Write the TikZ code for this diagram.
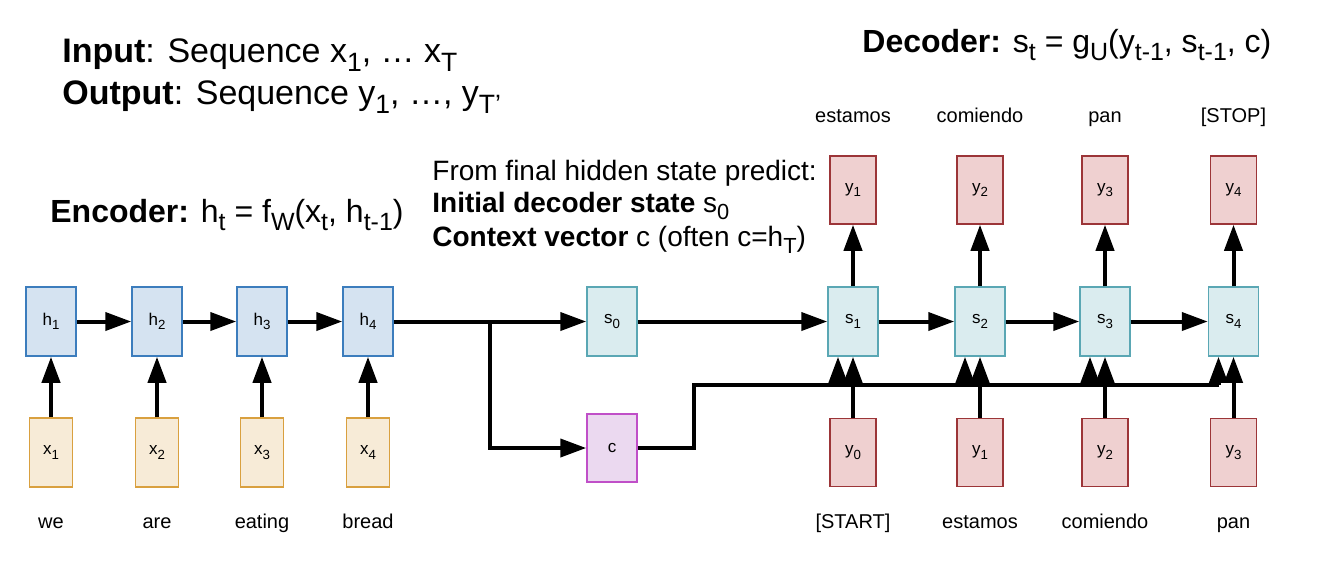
\documentclass[tikz,border=0pt]{standalone}
\usepackage{fontspec}
\setmainfont{Liberation Sans}
\usetikzlibrary{arrows.meta,calc}
\definecolor{hfill}{HTML}{D5E3F1}
\definecolor{hline}{HTML}{3C7DBD}
\definecolor{xfill}{HTML}{F7EBD7}
\definecolor{xline}{HTML}{D9A03F}
\definecolor{sfill}{HTML}{DAECEF}
\definecolor{sline}{HTML}{5AA7B4}
\definecolor{cfill}{HTML}{EBD9F0}
\definecolor{cline}{HTML}{C04FC8}
\definecolor{yfill}{HTML}{EFD0D0}
\definecolor{yline}{HTML}{9C3538}
\newcommand{\lo}[1]{\raisebox{-0.27em}{\scalebox{0.78}{#1}}}

\begin{document}
\begin{tikzpicture}[x=0.5pt,y=-0.5pt,
    cell/.style={draw,line width=0.75pt,minimum width=25pt,minimum height=34.5pt,inner sep=0pt,font=\fontsize{8.5}{10}\selectfont},
    hcell/.style={cell,draw=hline,fill=hfill},
    xcell/.style={cell,draw=xline,fill=xfill,minimum width=21.5pt},
    scell/.style={cell,draw=sline,fill=sfill},
    ccell/.style={cell,draw=cline,fill=cfill,minimum height=34pt},
    ycell/.style={cell,draw=yline,fill=yfill,minimum width=23pt,minimum height=34pt},
    word/.style={anchor=base,font=\fontsize{10}{12}\selectfont},
    big/.style={anchor=base west,inner sep=0pt,font=\fontsize{16}{19}\selectfont},
    note/.style={anchor=base west,inner sep=0pt,font=\fontsize{14}{16}\selectfont},
    arr/.style={line width=2pt,-{Triangle[length=13pt,width=9pt]}},
    wire/.style={line width=2pt}]
  \useasboundingbox (0,0) rectangle (1317,569);
  % encoder
  \foreach \i/\xx/\w in {1/51/we,2/157/are,3/262/eating,4/368/bread} {
    \node[hcell] (h\i) at (\xx,321.5) {h\lo{\i}};
    \node[xcell] (x\i) at (\xx,452.5) {x\lo{\i}};
    \node[word] (xw\i) at (\xx,528) {\w};
    \draw[arr] (x\i) -- (h\i);
  }
  \foreach \i/\j in {1/2,2/3,3/4} \draw[arr] (h\i) -- (h\j);
  % bridge
  \node[scell] (s0) at (612,321.5) {s\lo{0}};
  \node[ccell] (c) at (612,448) {c};
  \draw[arr] (h4) -- (s0);
  \coordinate (split) at (490,321.5);
  \draw[arr] (split) |- (c);
  % decoder
  \foreach \i/\j/\xx/\up/\dn in {1/0/853/estamos/{[START]},2/1/980/comiendo/estamos,3/2/1105/pan/comiendo,4/3/1233.5/{[STOP]}/pan} {
    \node[scell] (s\i) at (\xx,321.5) {s\lo{\i}};
    \node[ycell] (yt\i) at (\xx,190) {y\lo{\i}};
    \node[ycell] (yb\i) at (\xx,452.5) {y\lo{\j}};
    \node[word] (ytw\i) at (\xx,122) {\up};
    \node[word] (ybw\i) at (\xx,528) {\dn};
    \draw[arr] (s\i) -- (yt\i);
    \draw[arr] (yb\i) -- (s\i);
  }
  \draw[arr] (s0) -- (s1);
  \foreach \i/\j in {1/2,2/3,3/4} \draw[arr] (s\i) -- (s\j);
  % context vector
  \coordinate (bend) at (694,385);
  \foreach \i in {1,...,4} {
    \path ([xshift=-7.5pt]s\i.south) coordinate (in\i);
    \coordinate (tap\i) at (in\i |- bend);
    \draw[arr] (tap\i) -- (in\i);
  }
  \draw[wire] (c.east) -| (bend) -- (tap4);
  % texts
  \node[big,font=\fontsize{17}{20}\selectfont] (inp) at (62,62) {\textbf{Input}: Sequence x\lo{1}, … x\lo{T}};
  \node[big,font=\fontsize{17}{20}\selectfont] (outp) at (62,104) {\textbf{Output}: Sequence y\lo{1}, …, y\lo{T'}};
  \node[big] (dec) at (862,52) {\textbf{Decoder:} s\lo{t} = g\lo{U}(y\lo{t-1}, s\lo{t-1}, c)};
  \node[big] (enc) at (50,222) {\textbf{Encoder:} h\lo{t} = f\lo{W}(x\lo{t}, h\lo{t-1})};
  \node[note] (pred) at (432,180) {From final hidden state predict:};
  \node[note] (init) at (432,212) {\textbf{Initial decoder state} s\lo{0}};
  \node[note] (ctx) at (432,246) {\textbf{Context vector} c (often c=h\lo{T})};
\end{tikzpicture}
\end{document}
